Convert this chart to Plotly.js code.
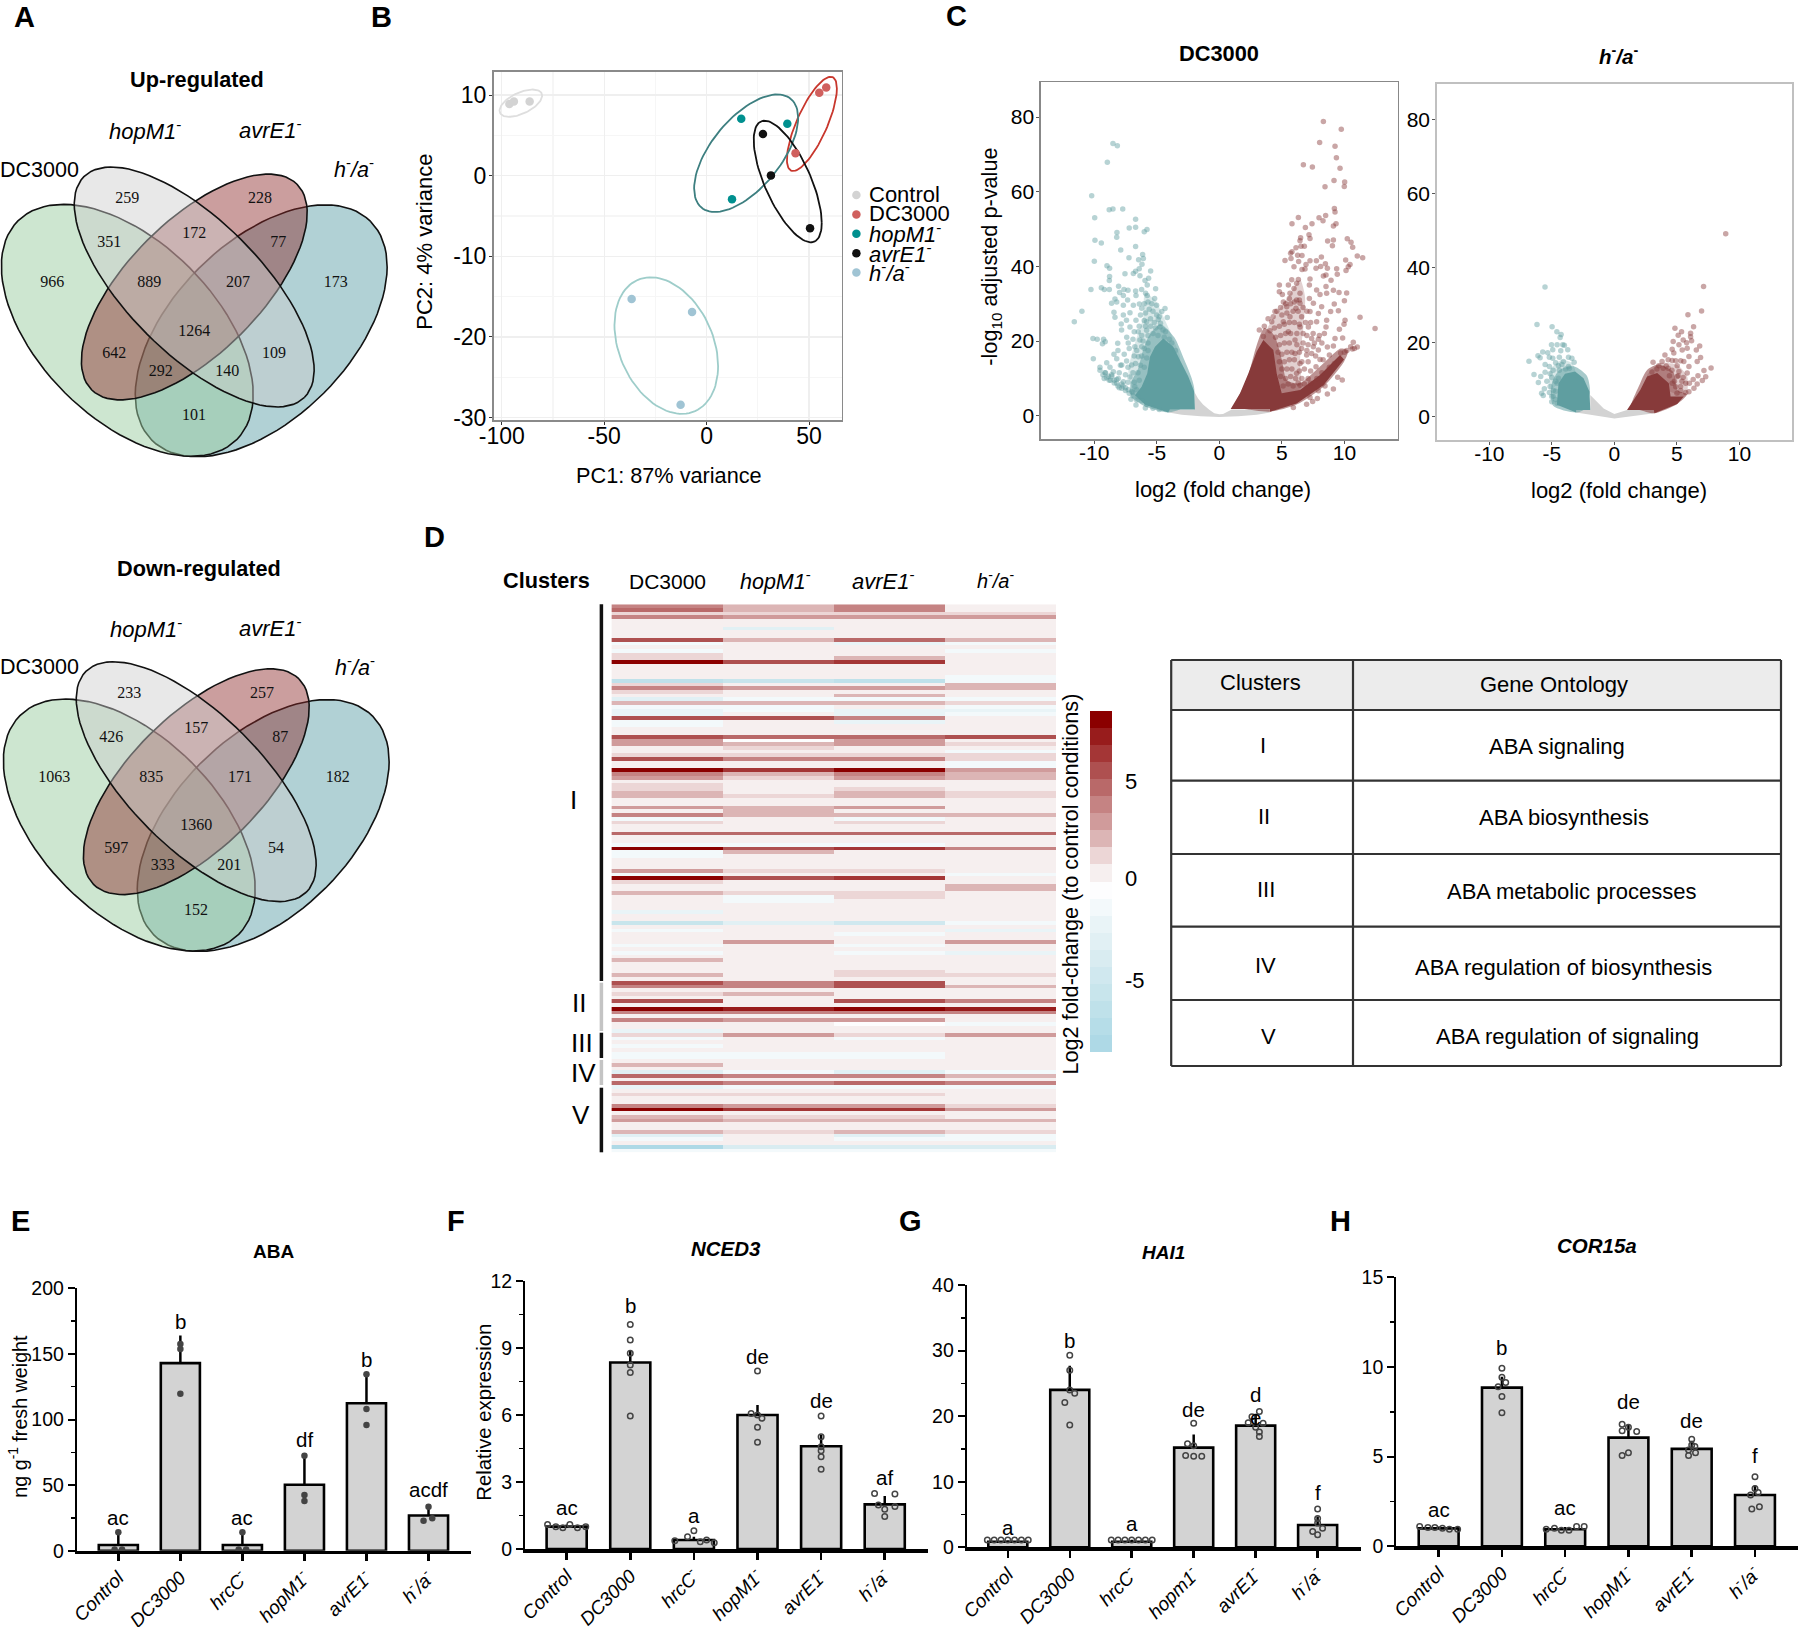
<!DOCTYPE html>
<html><head><meta charset="utf-8">
<script src="https://cdn.plot.ly/plotly-3.0.1.min.js"></script>
<style>html,body{margin:0;padding:0;background:#fff}</style></head>
<body><div id="chart" style="width:1800px;height:1627px"></div>
<script>
/* ---------- DATA ---------- */
// A: Venn counts
const vennUpCounts   = [259,228,351,172,77,966,889,207,173,1264,642,109,292,140,101];
const vennDownCounts = [233,257,426,157,87,1063,835,171,182,1360,597,54,333,201,152];
// B: PCA samples
const pcaNames = ['Control','DC3000','<i>hopM1</i><sup>-</sup>','<i>avrE1</i><sup>-</sup>','<i>h</i><sup>-</sup><i>/a</i><sup>-</sup>'];
const pcaX = [[-96.3,-94.1,-86.4],[58.4,55,43.4],[16.9,39.4,12.4],[27.5,31.4,50.5],[-36.6,-7.1,-12.7]];
const pcaY = [[8.9,9.2,9.2],[10.95,10.3,2.8],[7.07,6.45,-2.93],[5.17,0.04,-6.53],[-15.3,-16.9,-28.4]];
// C: volcano, individually legible points (log2FC, -log10 p)
const volDownX = [-8.5,-8.15,-8.95,-10.2,-8.8,-8.5,-7.72,-9.96,-6.69,-8.18,-7.2,-6.69,-6,-5.78,-8.2,-9.94,-9.43,-7.88,-6.69,-6.13,-6.45,-7.22,-9.99,-6.07,-8.98,-8.77,-6.18,-6.4,-5.49,-6.69,-7.54,-6.87,-6.34,-8.77,-5.65,-8.79,-5.94,-5.76,-8.05,-9.43,-10.26,-9.19,-8.79,-5.09,-7.62,-7.3,-6.69,-6.21,-7.97,-7.67,-5.89,-5.76,-6.66,-5.17,-7.33,-8.34,-8.61,-8.2,-7.67,-6.87,-6.39,-5.01,-6.2,-4.34,-10.98,-8.42,-4.6,-7.67,-7.14,-11.59,-8.34,-4.16,-7.84,-7.42,-6.66,-4.88,-5.81,-7.81,-7.14,-6.48,-5.81,-4.74,-10.1,-9.76,-9.25,-9.12,-9.34,-8.12,-7.28,-6.35,-6.75,-8.1,-6.2,-8.42,-10.07,-8.2,-7.41,-9,-6.47,-7.8,-9.54,-8.74,-7,-9.54,-9.14,-8.47,-8.87,-8.07,-7.14,-7.67,-8.2,-6.75,-7.28,-6.93,-7.06,-6.66,-5.91];
const volDownY = [72.9,72.3,67.9,58.9,55.2,55.4,55.4,53,52.6,49.1,50.3,50.5,49.3,49.9,47.8,47,46.3,44.4,45.3,43.2,41.8,42.3,41.4,42.1,40.2,39.5,40.6,39.4,38.8,38.7,38,38.1,37.5,37.3,36.8,36.2,36.2,35,34.7,34.3,33.8,33.8,33.8,34,33.8,33.6,33.4,33.8,33,32.2,32.8,32.2,32.2,31.4,31,31.3,30.1,30.5,29.6,29.6,29.9,29.6,28.8,28.7,28,27.7,27.9,27,27.6,25.2,26.4,26.3,24.6,25.6,25.6,25.8,25.2,23,23.8,22.5,22.9,23.8,20.7,20.5,20.5,19.8,19.3,19.4,19.5,20.3,18.5,17.5,18.5,16.5,15.3,15.3,14.7,14.2,15.8,13.6,13,13,13.6,12.2,11.5,11.8,10.6,10,10.4,9.1,8.7,7.8,7,6.3,4.4,2.9,2.1];
// the crowded middle of the same cloud, and the lower arc
const volDownMidX = [-6,-5.7,-5.4,-5.6,-5.3,-5.9,-6.3,-5,-4.8,-5.5,-6,-5.2,-4.7,-6.4,-5.9,-5.5,-5.1,-4.5,-4.3,-6.8,-6.2,-5.7,-5.3,-4.9,-4.4,-4,-7.4,-6.9,-6.1,-5.7,-3.8,-7.2,-6.6,-6,-5.7,-3.5,-7.6,-6.8,-6.2,-5.8,-7.9,-7.3,-6.7,-6.3,-6,-8.6,-8,-7.5,-6.9,-6.5,-9.2,-8.8,-8.4,-7.8,-7.3,-6.8,-6.4,-8,-7.5,-7,-6.6,-6.5,-6.2,-6.6,-5.8,-5.3,-4.8,-9.3,-9,-8.7,-8.4,-8.1,-7.8,-7.5,-7.2,-6.9,-9.1,-8.6,-8.2,-7.7];
const volDownMidY = [30,30.5,30,28.5,28,27.5,27,27,26.5,26,25.5,25,24.8,24,24,24,23.5,23,22.5,22.5,21.5,21.5,22,21.5,21,20.5,21,20.5,20,19.5,19.5,18,17.5,18,17.5,17.5,16.5,16,16,15.5,13.5,13,14,13.5,13,11,11.5,11,11.5,11.5,10,9.5,9.5,8.5,9,9,9.5,7.5,7.5,6.5,7,5,4,4.2,3,2,1.7,11,10.2,9.5,8.8,8,7.4,6.8,6,5.3,11.5,10.6,9.7,8];
const volUpX = [8.32,9.75,8.02,9.25,9.36,6.72,7.44,9.65,9.17,10.02,9.99,8.45,9.2,9.25,6.32,7.97,8.5,8.29,5.81,7.41,9.33,9.12,6.88,7.17,7.25,6.5,6.45,8.66,9.12,10.23,10.53,9.04,10.66,6.13,6.53,6.8,5.81,5.7,6.26,6.61,11.03,11.46,8.16,7.25,7.76,5.25,5.73,10.1,6.34,6.93,8.48,10.45,8.1,5.97,7.73,8.64,9.38,10.31,10.13,6.85,6.61,9.43,8.53,8.32,5.79,6.32,7.25,8.93,5.52,6.18,7.2,4.8,8.53,5.97,7.78,9.12,9.57,10.18,4.8,5.04,5.65,6.45,8.05,8.58,5.6,6.18,7.2,10,9.19,5.12,6.45,7.52,8.18,5.39,6.13,9.52,4.45,7.25,8.9,7.92,11.25,10.05,5.65,6.58,8.58,4.19,5.12,7.78,12.45,6.45,7.12,8.53,9.6,9.97,4.05,5.52,9.25,9.86,7.38,7.92,3.52,6.05,10.71,11.03,10.63,9.12,8.64,7.52,6.58,7.92,6.05,6.98,7.38,8.8,8.05,6.45,7.73,6.18,9.46,9.83,6.45,8.45,9.12,7.92,7.25,7.84,8.64,7.46,6.98,5.92];
const volUpY = [78.8,76.7,73.2,72.2,69.1,67.2,66.6,66.3,63,62.6,61.4,61.3,55.5,54.6,53.1,53,53.6,52.2,51.4,51.4,51.4,50.8,50.4,48.5,47.5,47.7,46.9,46.8,47.1,47.4,46.5,45.5,45.1,45,45.4,45.4,43.9,43.5,43,42.9,42.8,42.3,42.5,41.5,41.5,41.6,42.1,41.7,41.3,40.5,40.7,40.5,40,39.9,39.5,39.5,39.4,39.9,38.9,39.3,39.2,37.9,37.7,37.4,36.4,36.5,36.6,36.3,35,35.5,35,35,34.6,34.1,33.7,33.6,33,32.9,33.2,32.5,32.8,32.8,32.5,32.8,31.4,31,31.4,30.8,29.9,30.5,30.1,30.1,29.2,29.2,28.8,28.1,27.9,27.9,27.9,27.4,26.4,25.6,26.5,26.5,25.6,25.2,25.2,25.2,23.4,23.8,23.8,23.8,23.2,24.5,22.8,22.5,20.7,20.8,20.7,20.5,21.2,20.3,19.7,18.4,17.9,18.7,18.4,18.5,18,17.6,16.7,16.3,16.7,16.3,15.1,14,13.1,11.4,10.3,9.6,8.2,8,7.2,6.7,4.9,4.6,5.8,3.8,3.1,2.2];
const volUpMidX = [3.2,3.6,3.9,4.3,4.6,4.9,5.3,5.7,6,6.4,5,5.4,5.9,6.3,6.7,7,4.4,4.8,5.2,5.6,6,6.4,6.9,7.3,4.5,4.9,5.3,5.7,6.2,6.7,7,7.5,8,8.4,4.8,5.2,5.6,6.2,6.7,7.1,7.6,8.2,4.7,5,5.4,5.8,6.4,7,7.7,8.3,4.8,5.2,5.6,6,6.6,7.1,5,5.4,5.8,6.4,6.8,7.3,4.9,5.3,5.7,6.1,6.6,7.1,5.1,5.5,5.9,6.3,6.8,7.3,7.8,8.2,8.8,9.2,9.7,10,10.2,10.5,10.8];
const volUpMidY = [23,24,26,26.5,28,29,30,30,30.5,31,27,27.5,28,28,29,28,23.5,24,24.5,25,25,24.5,25,25,21,21.5,22,22,22,22,21.5,22,21.5,22,19,19.5,19.5,19,19.5,19,19.5,19.5,17,16.5,17,17,17,17.5,16,15,14.5,14.5,15,15,14.5,14.5,12.5,12.5,12.5,12,12.5,12,10.5,10,10.5,10,10,10,8,8.5,8,8.8,8.5,8.7,10,11.5,13,14,16.8,17,17.5,18.5,18];
// C: outlines of the regions where points merge into a solid mass
const coreDownX = [-4.08,-5.91,-6.74,-6.21,-5.76,-5.54,-5.14,-4.48,-3.68,-3.14,-2.48,-2,-1.95,-3.95];
const coreDownY = [0.9,2.9,5.5,7.8,11.3,15.8,18.5,20.7,18.5,14.9,10.5,6.4,1.7,1.7];
const nearDownX = [-4.08,-6,-7,-7.1,-6.5,-6.1,-5.6,-4.7,-3.6,-2.8,-2.2,-2,-3];
const nearDownY = [0.9,2.6,5,8.5,12.5,17.5,21.5,24.5,21,15,10,6.4,2];
const midDownX = [-6.74,-7.1,-7.27,-6.74,-6.07,-5.94,-5.14,-4.34,-3.54,-3.14];
const midDownY = [5.5,8.5,12.2,19.4,26.5,32.8,31,25.6,19.4,14.9];
const coreUpX = [0.91,1.66,2.32,2.99,3.52,4.32,4.59,4.99,6.45,8.05,9.65,9.97,8.32,6.18,4.05,4.05];
const coreUpY = [1.8,6,11.3,17.2,20.3,17.6,11.3,6,6.9,10.9,16.3,15.1,8.2,3.3,1.08,1.8];
const nearUpX = [1.2,2.2,3,3.6,4.4,5,5.4,6.4,8,9.7,10.3,9.97,8.32,6.18,4.05,2];
const nearUpY = [2.2,9.5,19,23.5,21.5,15,9.5,8.7,13,18,17.5,14.5,7.8,3,1.1,1.8];
const midUpX = [3.52,4.19,5.52,6.45,6.85,6.72,6.45,6.45,4.99];
const midUpY = [20.3,25.6,31.9,36.4,31.9,23.8,14.9,6.9,6];
const nsX = [-4.05,-3,-1.5,0,1.5,3,4.05,4,1,0.6,0.3,0,-0.4,-0.8,-1.3,-1.7,-2,-2,-4];
const nsY = [0.9,0.3,-0.1,-0.3,-0.1,0.3,0.9,1.7,1.7,0.9,0.5,0.4,0.7,1.6,3,4.6,6.4,1.7,1.7];
const ha_volDownX = [-5.55,-6.19,-4.98,-4.6,-4.26,-4.34,-5.03,-4.58,-4.13,-4,-4.93,-3.73,-5.73,-5.33,-4.29,-6.11,-5.94,-4.93,-4.4,-3.67,-3.4,-6.83,-3.22,-5.54,-4.08,-5.2,-4.47,-3.67,-6.43,-5.89,-5.54,-5.14,-6.08,-5.14,-5.82,-5.69,-5.01,-5.01,-4.58,-4.88,-4.58,-4.47,-5.2,-4.7,-4.4,-4.9,-5,-4.7,-5.4,-4.2,-3.9,-3.6,-5.2,-4.9,-4.7,-5.6,-4.7];
const ha_volDownY = [34.9,24.8,24.2,22.8,22.1,21.3,19.3,19.3,19.3,19.2,18,18,17.4,17.2,17.7,16.4,15.8,15.7,16,16,15.7,14.9,14.6,14,14.8,13.5,13.7,13.5,11.3,10.8,11.9,11.5,9.2,8.1,6.3,5.7,5.4,4,3.6,7,9,10.3,16,14.5,12.5,12.5,10.5,9.5,9.5,14,12.8,13,6.5,5.5,6.8,7.5,4.6];
const ha_volUpX = [8.9,7.13,6.97,5.88,4.84,6.33,5.37,6.09,6.09,5.1,4.7,5.5,6.17,5.16,5.77,6.82,4.62,5.42,5.82,6.55,4.04,4.75,5.96,6.89,3.09,3.81,4.62,5.55,6.62,4.14,3.55,5.02,5.96,7.73,7.16,6.68,7.3,7.03,5.82,5.16,6.62,6.36,5.96,5.29,4.62,5.02,3.9,4.3,4.6,5.1,5.5,5.4,5.7,4.9,5.3,5.7,3.4,3,4.9,4.3,5.3,4.4,4.8,5,6,6.3];
const ha_volUpY = [49.2,35,28.4,27.4,23.8,24.2,22.8,22.4,21.5,21.9,20.2,20.6,20.4,19.3,19.9,19,18.1,17.9,18.4,17.9,16.6,17.1,16.2,15.9,14.6,14.8,15.1,14.8,14.8,13.6,13.7,13.7,13.5,13.1,12.4,11,10.7,9.7,11.7,12.1,8.8,7.6,6.7,8.1,9,10.8,13,13,12.5,11,10.5,9.5,9,8,7,6.5,12.8,12,15,15.3,15,11,9.5,6.3,9,10];
const ha_coreDownX = [-4.6,-4.47,-3.95,-3.14,-2.47,-1.99,-1.93,-3.06,-3.06];
const ha_coreDownY = [3.2,9,11.5,12.1,10.3,6.7,1.8,1.8,1.1];
const ha_nearDownX = [-3.06,-4.9,-5,-4.4,-3.2,-2.2,-1.95,-2.4];
const ha_nearDownY = [1.1,2.9,9,12.5,13.5,11,6.7,2];
const ha_midDownX = [-4.47,-5.14,-5.14,-4.21,-3.4,-3.14];
const ha_midDownY = [9,7.2,12.6,15.2,14.4,12.1];
const ha_coreUpX = [1.01,2.08,2.61,3.42,4.35,4.49,5.55,5.02,3.2,3.15];
const ha_coreUpY = [1.8,7.2,10.8,11.7,9,5.4,5.4,3.4,0.9,1.8];
const ha_nearUpX = [1.3,2,2.6,3.5,4.7,5.1,5.8,5.02,3.2,2];
const ha_nearUpY = [2.2,8.5,12.5,14,12,7,6,3.4,0.9,1.8];
const ha_midUpX = [2.61,3.68,5.02,5.82,5.82,5.55];
const ha_midUpY = [10.8,14.4,13.9,10.8,6.7,5.4];
const ha_nsX = [-3.06,0,3.2,3.15,1.01,0,-0.86,-1.53,-1.93,-1.93,-3.06];
const ha_nsY = [1.1,-0.5,0.9,1.8,1.8,0.7,2.2,4.5,5.8,1.8,1.8];
// D: heat map, rows that differ from the near-zero background
const heatCols = ['DC3000','hopM1','avrE1','h/a'];
const heatRowCount = 147;
const heatRows = [0,1,2,3,6,9,10,12,13,14,15,19,20,21,22,23,24,25,26,27,28,29,30,31,32,35,36,37,38,39,40,41,42,43,44,45,46,48,49,50,51,54,55,56,57,58,61,64,65,66,67,71,72,73,74,75,76,77,78,79,82,85,87,88,90,91,93,95,98,99,101,102,104,106,108,109,111,112,114,115,116,118,120,121,123,125,126,128,129,131,134,135,137,138,141,142,143,145,146];
const heatDC = [3.8,4.5,1,3.3,0,5.2,-1.5,-1.5,1.3,1,8,0,-7,0.7,3.3,1.3,0,-3,1.8,-1.5,-2,-2.5,5.5,-1.5,-1.5,5.2,2.9,2.9,0,0,1,5.2,0,0,8,3.3,2.9,0.8,1,1.8,1.8,2.9,0,3.8,-1.5,1.3,4.5,-1.5,8,-1.5,-1.5,2.9,-1.5,8,1,0,0,1.8,0,0,-2,-5.5,-1.5,0,0,-1.5,-1.5,1.8,0,1.8,5.2,3.8,1,5.2,8,3.3,3.3,0,-2.5,1,-1.5,-1.5,-1.5,-1.5,2.2,-3,4.5,4.5,-2,1,3.8,8,1.8,2.9,2.2,-3,-1.5,-8,-1.5];
const heatHop = [2.2,2.2,0.7,2.9,-3,1.8,0,0,0,0,5.5,0,-5.5,0,2.9,0,0,-1.5,1.8,-1.5,-1.5,0,5.5,0,0,4.5,-0.5,2.2,1.3,0,0.7,3.3,0,0,6.2,1.8,1.3,0,0,0,1.3,1.8,1.8,1.8,0,0,4.5,-1.5,5.5,1.8,0,1.3,0,5.5,0,0,0,0.8,-1.5,-1.5,0,-3,0,0,2.9,0,0,0,0,0,3.8,3.8,1.8,0,7.5,3.3,2.9,0,0,2.5,0,0,-1.5,-1.5,0,-1.5,3.8,3.8,-1.5,1,2.9,6.6,1,1.8,1.3,0,0.4,-4,-1.5];
const heatAvr = [3.3,3.3,0.7,2.9,0,4.5,-2,0,0,1.8,6,0,-7,0,2.9,0,1.8,-1.5,1.8,0,-2,-2,3.8,-2.5,0,4.5,2.9,2.9,0,0,1,3.8,0,0,8,3.3,2.9,0,1,1.8,1.8,2.9,0,2.2,-1.5,1,4.5,-1.5,6.2,0,0,1.3,0,6.2,0,0,0,1,1,0,0,-5,0,-1.5,0,-1.5,-1.5,0,1,1,5.2,5.2,0,5.2,8,3.3,2.9,-0.5,0,1,-1.5,0,-1.5,-1.5,0,-3.5,3.8,4.5,-1.5,1,2.9,6.6,1.3,1.8,2.2,-3,-1.5,-4,-1.5];
const heatHA = [0,0,0.7,2.9,0,1.8,-1.5,-1.5,0,0,0,-1.5,-1.5,2.2,2.2,0,0,-1.5,0.7,-1.5,-2,-1.5,0,0,0,5.2,0,1.3,0,-1.5,1,0.7,-1.5,-1.5,2.9,2.2,1.8,0,0,1,1,0,0,1.8,0,0,4.5,0,3.8,0,0,0,-1.5,0,0,1.8,1.8,0,0,0,0,-1.5,-2,0,2.9,0,-2,0,0,0.8,0.3,1.8,0,3.8,7.5,3.3,0,-1.5,0,2.9,0,0,0,0,0,-1.5,2.2,3.8,-1.5,0,1,2.9,0,2.2,1,-1.5,-1.5,-4,-1.5];
const heatBands = ['#aed9e6','#b6dde8','#bfe1ea','#c8e5ec','#d0e8ef','#d9ecf1','#e1f0f4','#e9f4f7','#f3f9fb','#fdfdfe','#f6efef','#ecd6d6','#dcb5b5','#d09b9b','#c58383','#b96969','#ae5050','#a43636','#981c1c','#8b0000'];
// D: table
const tableClusters = ['I','II','III','IV','V'];
const tableTerms = ['ABA signaling','ABA biosynthesis','ABA metabolic processes','ABA regulation of biosynthesis','ABA regulation of signaling'];
// E-H: bars
const groupsE = ['Control','DC3000','hrcC','hopM1','avrE1','h/a'];
const meansE = [4.3,143,4.3,50.3,112.4,26.8];
const errsE  = [9.7,21,9.7,22,22,7];
const dotsE  = [[14,1,1],[157.6,153.7,119.7],[14,1,1],[72.4,42.4,37.9],[134.4,108,95.8],[33.5,22.9,24.7]];
const jitE   = [[0,-0.06,0.06],[0,0,0],[0,-0.06,0.06],[0,0,0],[0,0,0],[0,-0.08,0.06]];
const lettersE = ['ac','b','ac','df','b','acdf'];
const letterYE = [25.4,175,25.4,85,146,47];
const meansF = [1,8.35,0.4,6,4.6,2];
const errsF  = [0.1,0.55,0.15,0.45,0.5,0.37];
const dotsF  = [[1.1,1,0.95,1.1,0.95,1],[10.05,9.36,8.76,8.24,7.9,5.96],[0.82,0.55,0.37,0.33,0.4,0.28],[7.97,6.07,5.85,6,5.45,4.78],[5.96,5.03,4.58,4.4,4.13,3.57],[2.49,2.46,1.97,1.9,1.78,1.45]];
const jitF   = [[-0.3,-0.17,-0.06,0.05,0.17,0.3],[0,0,0,0,0,0],[0,-0.1,-0.3,0.1,0.2,0.32],[0,-0.1,0.07,0,0,0],[0,0,0,0,0,0],[-0.16,0.16,-0.1,0.16,0,0]];
const lettersF = ['ac','b','a','de','de','af'];
const letterYF = [1.85,10.9,1.52,8.64,6.64,3.2];
const meansG = [0.85,24,0.85,15.2,18.55,3.4];
const errsG  = [0.2,3.7,0.3,2,1.8,1.3];
const dotsG  = [[1.1,1.1,1.1,1.1,1.1,1.1,1.1,-0.7],[29.3,27,24,23.5,22.1,18.65],[1.1,1.1,1.1,1.1,1.1,1.1,1.1,-0.4],[18.9,15.8,15.5,14,13.9,13.9],[20.7,19.9,19,18.9,18.3,17.6,16.9],[5.85,4.4,3.7,2.9,2.4,1.9]];
const jitG   = [[-0.33,-0.22,-0.11,0,0.11,0.22,0.33,-0.05],[0,0,0,0.08,-0.08,0],[-0.33,-0.22,-0.11,0,0.11,0.22,0.33,-0.05],[0,-0.1,0,-0.13,0,0.13],[0.06,-0.06,-0.12,0.12,0,0.06,0.06],[0,0,0,0.08,-0.08,0]];
const lettersG = ['a','b','a','de','d','f','e'];
const letterYG = [2.95,31.6,3.66,21,23.3,8.4,19.8];
const meansH = [1,8.85,0.95,6.06,5.43,2.86];
const errsH  = [0.1,0.6,0.12,0.7,0.45,0.55];
const dotsH  = [[1.1,1.05,1.05,1,0.95,0.95],[9.93,9.42,9.13,8.9,8.35,7.45],[1.1,1,0.95,0.9,0.9,1.1],[6.8,6.64,6.45,6.4,5.22,5.07],[5.97,5.65,5.56,5.37,5.22,5.06],[3.88,3.23,3,2.86,2.2,2.08]];
const jitH   = [[-0.3,-0.17,-0.06,0.06,0.17,0.3],[0,0,0.06,-0.06,0,0],[0.3,-0.17,-0.3,-0.06,0.06,0.18],[-0.1,0,-0.1,0.13,0,-0.1],[0,0,0.05,-0.05,0.06,-0.05],[0,0,0.05,-0.07,0.07,-0.05]];
const lettersH = ['ac','b','ac','de','de','f'];
const letterYH = [2.06,11.08,2.16,8.07,7,5.09];

/* ---------- LAYOUT HELPERS ---------- */
const W=1800,H=1627,SANS='"Liberation Sans",Arial,sans-serif',SERIF='"Liberation Serif","Times New Roman",serif';
const dx=(a,b)=>[a/W,b/W], dy=(t,b)=>[1-b/H,1-t/H];
const hy=a=>a.map(String);
const traces=[],annotations=[],shapes=[];
const layout={width:W,height:H,margin:{l:0,r:0,t:0,b:0},paper_bgcolor:'#fff',plot_bgcolor:'rgba(0,0,0,0)',showlegend:false,font:{family:SANS,color:'#000'},annotations,shapes,
  xaxis:{domain:[0,1],range:[0,W],visible:false,fixedrange:true},
  yaxis:{domain:[0,1],range:[H,0],visible:false,fixedrange:true}};
function ann(text,x,y,size,o={}){annotations.push(Object.assign({text,x:x/W,y:1-y/H,xref:'paper',yref:'paper',showarrow:false,xanchor:'center',yanchor:'middle',font:{size,family:SANS,color:'#000'},borderpad:0},o));}
function rule(x0,y0,x1,y1,color,width){shapes.push({type:'line',xref:'paper',yref:'paper',x0:x0/W,x1:x1/W,y0:1-y0/H,y1:1-y1/H,line:{color,width}});}

/* ---------- A: VENN ---------- */
const vennShapes=[
 {cx:261.2,cy:330.8,a:154.7,b:88.3,r:-45,fill:'rgba(60,140,150,0.40)'},
 {cx:127.3,cy:330.3,a:154.7,b:88.3,r:45,fill:'rgba(155,205,161,0.50)'},
 {cx:194.3,cy:287,a:145.3,b:66.3,r:-45,fill:'rgba(140,40,40,0.45)'},
 {cx:194.2,cy:287,a:156,b:66.7,r:45,fill:'rgba(205,205,205,0.45)'}];
const vennLabelX=[127.3,260,109.3,194.3,278.3,52.3,149.3,238,335.7,194.3,114.3,274,160.7,227.3,194];
const vennLabelY=[199,199,243.3,234.3,243.3,283.3,283.3,283.3,283.3,331.7,354,354,371.7,371.7,416];
function venn(counts,ox,oy){
  vennShapes.forEach(s=>{const xs=[],ys=[],t=s.r*Math.PI/180;
    for(let i=0;i<=96;i++){const u=i/96*2*Math.PI,p=s.a*Math.cos(u),q=s.b*Math.sin(u);
      xs.push(s.cx+ox+p*Math.cos(t)-q*Math.sin(t));ys.push(s.cy+oy+p*Math.sin(t)+q*Math.cos(t));}
    traces.push({type:'scatter',mode:'lines',x:xs,y:ys,xaxis:'x',yaxis:'y',fill:'toself',fillcolor:s.fill,line:{color:'#111',width:1.6},hoverinfo:'skip'});});
  traces.push({type:'scatter',mode:'text',x:vennLabelX.map(v=>v+ox),y:vennLabelY.map(v=>v+oy),text:counts.map(String),textposition:'middle center',textfont:{family:SERIF,size:16,color:'#111'},xaxis:'x',yaxis:'y',hoverinfo:'skip'});
}
venn(vennUpCounts,0,0);venn(vennDownCounts,2,494.7);
const hm='<i>hopM1</i><sup>-</sup>',av='<i>avrE1</i><sup>-</sup>',ha='<i>h</i><sup>-</sup><i>/a</i><sup>-</sup>';
ann('<b>Up-regulated</b>',196.7,80,21.7);ann(hm,145,129.5,22);ann(av,270.7,128.5,22);ann('DC3000',39,170,21.5);ann(ha,354,168,21.5);
ann('<b>Down-regulated</b>',199,568,21.7);ann(hm,145.7,628,22);ann(av,270.7,627,22);ann('DC3000',39,667.3,21.5);ann(ha,355,665.7,21.5);

/* ---------- panel letters ---------- */
[['A',24,17],['B',381,17],['C',956,16],['D',434,537],['E',20,1221],['F',456,1221],['G',911,1221],['H',1340,1221]].forEach(l=>ann('<b>'+l[0]+'</b>',l[1],l[2],29));

/* ---------- B: PCA ---------- */
const pcaColors=['#d3d3d3','#d0605e','#00908f','#111111','#a0c4d4'];
const pcaEllCol=['#dedede','#c8372d','#3d7f80','#111111','#9ecdca'];
const pcaEll=[[-90.7,9.0,10.4,1.69,0.55],[51.4,6.43,12.2,5.85,0.75],[19.3,2.79,25.4,7.29,0.6],[39.6,-0.72,16.6,7.54,-0.68],[-19.7,-21.07,25.3,8.47,-0.3]];
const gridAxis={showline:true,mirror:true,linecolor:'#8a8a8a',linewidth:1.6,showgrid:true,gridcolor:'#efefef',gridwidth:1.2,zeroline:false,ticks:'outside',ticklen:3,tickcolor:'#333',tickfont:{size:23,family:SANS,color:'#000'},fixedrange:true};
const pcaXT=[-100,-50,0,50],pcaYT=[10,0,-10,-20,-30];
layout.xaxis2=Object.assign({},gridAxis,{domain:dx(493.6,841.8),range:[-104,66],anchor:'y2',tickvals:pcaXT,ticktext:hy(pcaXT),ticklabelstandoff:-8,minor:{tickvals:[-75,-25,25],showgrid:true,gridcolor:'#f6f6f6',ticks:''}});
layout.yaxis2=Object.assign({},gridAxis,{domain:dy(71.7,420),range:[-30.3,12.9],anchor:'x2',tickvals:pcaYT,ticktext:hy(pcaYT),ticklabelstandoff:-2,minor:{tickvals:[5,-5,-15,-25],showgrid:true,gridcolor:'#f6f6f6',ticks:''}});
pcaEll.forEach((e,k)=>{const xs=[],ys=[],s=Math.sqrt(1-e[4]*e[4]);
  for(let i=0;i<=96;i++){const u=i/96*2*Math.PI;xs.push(e[0]+e[2]*Math.cos(u));ys.push(e[1]+e[3]*(e[4]*Math.cos(u)+s*Math.sin(u)));}
  traces.push({type:'scatter',mode:'lines',x:xs,y:ys,xaxis:'x2',yaxis:'y2',line:{color:pcaEllCol[k],width:1.8},hoverinfo:'skip'});});
pcaX.forEach((xs,k)=>traces.push({type:'scatter',mode:'markers',name:pcaNames[k],x:xs,y:pcaY[k],xaxis:'x2',yaxis:'y2',marker:{size:8.5,color:pcaColors[k]}}));
pcaNames.forEach((n,k)=>{const py=195+k*19.4;
  traces.push({type:'scatter',mode:'markers',x:[856.4],y:[py],xaxis:'x',yaxis:'y',marker:{size:8.5,color:pcaColors[k]},hoverinfo:'skip'});
  ann(n,868,py-0.5,22,{xanchor:'left'});});
ann('PC1: 87% variance',669.3,476,21.7);
ann('PC2: 4% variance',425,241.7,22,{textangle:-90});

/* ---------- C: VOLCANO ---------- */
const volAxis=(color)=>({showline:true,mirror:true,linecolor:color,linewidth:1.6,showgrid:false,zeroline:false,ticks:'outside',ticklen:3,tickcolor:'#555',tickfont:{size:21,family:SANS,color:'#000'},fixedrange:true});
const volXT=[-10,-5,0,5,10],volYT=[0,20,40,60,80];
layout.xaxis3=Object.assign(volAxis('#888'),{domain:dx(1040.9,1397.7),range:[-14.26,14.26],anchor:'y3',tickvals:volXT,ticktext:hy(volXT),ticklabelstandoff:-9});
layout.yaxis3=Object.assign(volAxis('#888'),{domain:dy(82.3,439.3),range:[-6.3,89.3],anchor:'x3',tickvals:volYT,ticktext:hy(volYT),ticklabelstandoff:-2});
layout.xaxis4=Object.assign(volAxis('#c0c0c0'),{domain:dx(1436.8,1792),range:[-14.2,14.2],anchor:'y4',tickvals:volXT,ticktext:hy(volXT),ticklabelstandoff:-9});
layout.yaxis4=Object.assign(volAxis('#c0c0c0'),{domain:dy(84,440),range:[-6.3,89.5],anchor:'x4',tickvals:volYT,ticktext:hy(volYT),ticklabelstandoff:-2});
function region(xs,ys,ax,ay,color,smooth){traces.push({type:'scatter',mode:'lines',x:xs.concat(xs[0]),y:ys.concat(ys[0]),xaxis:ax,yaxis:ay,fill:'toself',fillcolor:color,line:{color:'rgba(0,0,0,0)',width:0,shape:smooth?'spline':'linear',smoothing:smooth?0.7:0},hoverinfo:'skip'});}
function pts(xs,ys,ax,ay,color){traces.push({type:'scatter',mode:'markers',x:xs,y:ys,xaxis:ax,yaxis:ay,marker:{size:5.5,color,line:{width:0}}});}
const TEAL='rgb(95,158,160)',MAROON='rgb(135,58,58)',TEALA='rgba(95,158,160,0.45)',MAROONA='rgba(135,58,58,0.45)',TEALM='rgba(95,158,160,0.24)',MAROONM='rgba(135,58,58,0.24)',TEALN='rgba(95,158,160,0.55)',MAROONN='rgba(135,58,58,0.55)';
region(nsX,nsY,'x3','y3','#d3d3d3');
region(midDownX,midDownY,'x3','y3',TEALM,1);region(nearDownX,nearDownY,'x3','y3',TEALN,1);region(coreDownX,coreDownY,'x3','y3',TEAL);pts(volDownX.concat(volDownMidX),volDownY.concat(volDownMidY),'x3','y3',TEALA);
region(midUpX,midUpY,'x3','y3',MAROONM,1);region(nearUpX,nearUpY,'x3','y3',MAROONN,1);region(coreUpX,coreUpY,'x3','y3',MAROON);pts(volUpX.concat(volUpMidX),volUpY.concat(volUpMidY),'x3','y3',MAROONA);
region(ha_nsX,ha_nsY,'x4','y4','#d3d3d3');
region(ha_midDownX,ha_midDownY,'x4','y4',TEALM,1);region(ha_nearDownX,ha_nearDownY,'x4','y4',TEALN,1);region(ha_coreDownX,ha_coreDownY,'x4','y4',TEAL);pts(ha_volDownX,ha_volDownY,'x4','y4',TEALA);
region(ha_midUpX,ha_midUpY,'x4','y4',MAROONM,1);region(ha_nearUpX,ha_nearUpY,'x4','y4',MAROONN,1);region(ha_coreUpX,ha_coreUpY,'x4','y4',MAROON);pts(ha_volUpX,ha_volUpY,'x4','y4',MAROONA);
ann('<b>DC3000</b>',1219.3,53.5,21.8);ann('<b><i>h</i><sup>-</sup><i>/a</i><sup>-</sup></b>',1618,55,20.5);
ann('log2 (fold change)',1222.5,489,22);ann('log2 (fold change)',1619,490,22);
ann('-log<sub>10</sub> adjusted p-value',991,256.7,21.7,{textangle:-90});

/* ---------- D: HEAT MAP ---------- */
const zGrid=[];for(let r=0;r<heatRowCount;r++)zGrid.push([0,0,0,0]);
heatRows.forEach((r,i)=>{zGrid[r]=[heatDC[i],heatHop[i],heatAvr[i],heatHA[i]];});
const scale=[];heatBands.forEach((c,i)=>{scale.push([i/heatBands.length,c]);scale.push([(i+1)/heatBands.length,c]);});
layout.xaxis5={domain:dx(611.4,1056),range:[-0.5,3.5],anchor:'y5',visible:false,fixedrange:true};
layout.yaxis5={domain:dy(604.3,1152.3),range:[heatRowCount-0.5,-0.5],anchor:'x5',visible:false,fixedrange:true};
traces.push({type:'heatmap',z:zGrid,x:[0,1,2,3],xaxis:'x5',yaxis:'y5',zmin:-8.8,zmax:8.4,colorscale:scale,zsmooth:false,
  colorbar:{x:1089.5/W,xanchor:'left',y:1-(710.7+170.5)/H,yanchor:'middle',len:341/H,lenmode:'fraction',thickness:22,thicknessmode:'pixels',xpad:0,ypad:0,outlinewidth:0,tickvals:[-5.2,-0.05,4.85],ticktext:['-5','0','5'],ticks:'outside',ticklen:9,tickcolor:'rgba(0,0,0,0)',tickfont:{size:22,family:SANS,color:'#000'}}});
ann('<b>Clusters</b>',546.8,580.7,21.7);ann('DC3000',667,581,21);ann(hm,775,579.5,21.5);ann(av,883,579.5,22);ann(ha,995,579.5,20);
ann('Log2 fold-change (to control conditions)',1071,884.6,21.7,{textangle:-90});
[[604.3,981,'#111'],[982.7,1031,'#c4c4c4'],[1032.7,1058,'#111'],[1060,1085,'#c4c4c4'],[1087.7,1152.3,'#111']].forEach(b=>rule(601.4,b[0],601.4,b[1],b[2],3.5));
[['I',573.7,800],['II',579,1002.7],['III',582,1042.7],['IV',583,1072.7],['V',581,1115]].forEach(l=>ann(l[0],l[1],l[2],26));

/* ---------- D: TABLE ---------- */
const rowEdges=[660,710,780.7,854,926.7,1000,1066];
shapes.push({type:'rect',xref:'paper',yref:'paper',layer:'below',x0:1171.2/W,x1:1781/W,y0:1-660/H,y1:1-710/H,fillcolor:'#ececec',line:{width:0}});
rowEdges.forEach(y=>rule(1171.2,y,1781,y,'#333',2.2));
[1171.2,1353,1781].forEach(x=>rule(x,660,x,1066,'#333',2.2));
ann('Clusters',1260.4,682,22);ann('Gene Ontology',1553.7,684,22);
const clusterTX=[1263,1263.7,1265.7,1265,1268.5],clusterTY=[745,816.7,890,965,1036];
const termTX=[1557,1563.8,1571.4,1563.8,1567],termTY=[746,817,891.7,967,1036];
tableClusters.forEach((c,i)=>{ann(c,clusterTX[i],clusterTY[i],22);ann(tableTerms[i],termTX[i],termTY[i],22);});

/* ---------- E-H: BARS ---------- */
const lbl=n=>({'Control':'<i>Control</i>','DC3000':'<i>DC3000</i>','hrcC':'<i>hrcC</i><sup>-</sup>','hopM1':'<i>hopM1</i><sup>-</sup>','hopm1':'<i>hopm1</i><sup>-</sup>','avrE1':'<i>avrE1</i><sup>-</sup>','h/a':'<i>h</i><sup>-</sup><i>/a</i><sup>-</sup>'}[n]);
function barPanel(k,o){
  const xa='x'+k,ya='y'+k,idx=o.groups.map((_,i)=>i);
  layout['xaxis'+k]={domain:dx(o.left,o.right),range:o.xr,anchor:ya,tickvals:idx,ticktext:o.groups.map(lbl),tickangle:-45,showline:true,linecolor:'#000',linewidth:3.5,ticks:'outside',ticklen:7,tickwidth:2.5,tickcolor:'#000',showgrid:false,zeroline:false,tickfont:{size:19,family:SANS,color:'#000'},ticklabelstandoff:-2,fixedrange:true};
  layout['yaxis'+k]={domain:dy(o.top,o.bottom),range:o.yr,anchor:xa,tickvals:o.ticks,showline:true,linecolor:'#000',linewidth:2.2,ticks:'outside',ticklen:7,tickwidth:2,tickcolor:'#000',showgrid:false,zeroline:false,tickfont:{size:19.5,family:SANS,color:'#000'},fixedrange:true,minor:{dtick:o.minor,ticks:'outside',ticklen:4,tickwidth:1.6,tickcolor:'#000'}};
  traces.push({type:'bar',x:idx,y:o.means,width:0.63,xaxis:xa,yaxis:ya,marker:{color:'#d3d3d3',line:{color:'#000',width:2.6}},
    error_y:{type:'data',symmetric:false,array:o.errs,arrayminus:o.errs.map(()=>0),width:0,thickness:2.5,color:'#000'}});
  const xs=[],ys=[];o.dots.forEach((d,i)=>d.forEach((v,j)=>{xs.push(i+o.jit[i][j]);ys.push(v);}));
  traces.push({type:'scatter',mode:'markers',x:xs,y:ys,xaxis:xa,yaxis:ya,cliponaxis:false,
    marker:o.filled?{size:6.5,color:'#444'}:{size:5.5,symbol:'circle-open',color:'#444',line:{width:1.5,color:'#444'}}});
  o.letters.forEach((t,i)=>annotations.push({text:t,x:o.letterX?o.letterX[i]:i,y:o.letterY[i],xref:xa,yref:ya,showarrow:false,xanchor:'center',yanchor:'middle',borderpad:0,font:{size:20.5,family:SANS,color:'#000'}}));
}
barPanel(6,{left:77,right:470.7,xr:[-0.666,5.68],top:1288.3,bottom:1550.7,yr:[0,200],ticks:[0,50,100,150,200],minor:25,groups:groupsE,means:meansE,errs:errsE,dots:dotsE,jit:jitE,letters:lettersE,letterY:letterYE,filled:true});
barPanel(7,{left:525.3,right:928,xr:[-0.65,5.68],top:1281,bottom:1549,yr:[0,12],ticks:[0,3,6,9,12],minor:1.5,groups:groupsE,means:meansF,errs:errsF,dots:dotsF,jit:jitF,letters:lettersF,letterY:letterYF});
barPanel(8,{left:966.9,right:1361,xr:[-0.66,5.7],top:1285,bottom:1547.3,yr:[0,40],ticks:[0,10,20,30,40],minor:5,groups:['Control','DC3000','hrcC','hopm1','avrE1','h/a'],means:meansG,errs:errsG,dots:dotsG,jit:jitG,letters:lettersG,letterY:letterYG,letterX:[0,1,2,3,4,5,4]});
barPanel(9,{left:1396.4,right:1798,xr:[-0.668,5.68],top:1277.3,bottom:1546.3,yr:[0,15],ticks:[0,5,10,15],minor:2.5,groups:groupsE,means:meansH,errs:errsH,dots:dotsH,jit:jitH,letters:lettersH,letterY:letterYH});
ann('<b>ABA</b>',273.8,1251.7,19);ann('<b><i>NCED3</i></b>',726,1248,20.5);ann('<b><i>HAI1</i></b>',1163.5,1252.7,19);ann('<b><i>COR15a</i></b>',1597,1245,20.5);
ann('ng g<sup>-1</sup> fresh weight',18,1416.7,19.7,{textangle:-90});
ann('Relative expression',484,1412.7,20.3,{textangle:-90});

Plotly.newPlot('chart',traces,layout,{staticPlot:true,displayModeBar:false});
</script></body></html>
